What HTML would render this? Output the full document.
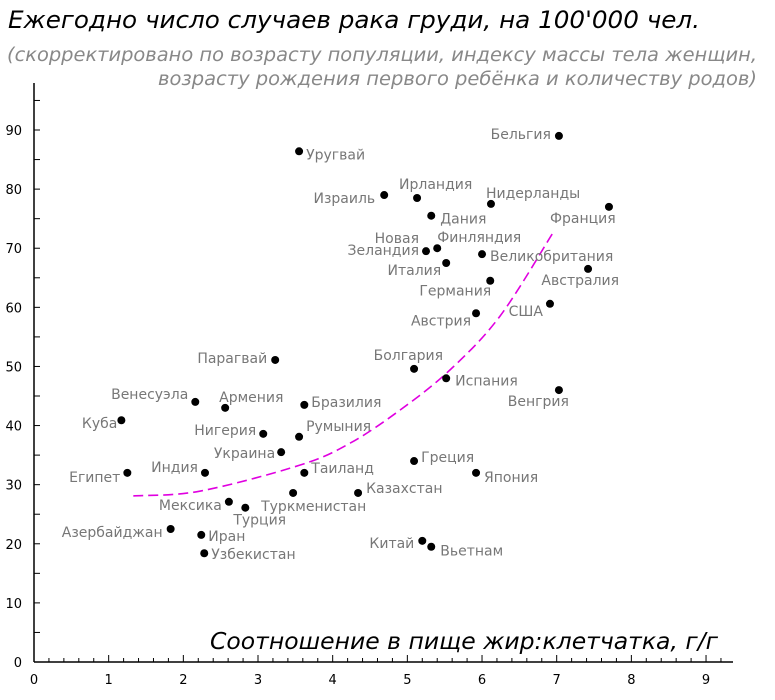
<!DOCTYPE html>
<html><head><meta charset="utf-8"><style>
html,body{margin:0;padding:0;background:#fff;}
svg{display:block;font-family:"DejaVu Sans","Liberation Sans",sans-serif;}
</style></head><body>
<svg id="chart" width="775" height="700">
<text x="8" y="28" font-size="24" font-style="italic" fill="#000" textLength="692" lengthAdjust="spacingAndGlyphs">Ежегодно число случаев рака груди, на 100'000 чел.</text>
<text x="757" y="61" font-size="18.5" font-style="italic" fill="#888" text-anchor="end" textLength="750" lengthAdjust="spacingAndGlyphs">(скорректировано по возрасту популяции, индексу массы тела женщин,</text>
<text x="757" y="85" font-size="18.5" font-style="italic" fill="#888" text-anchor="end" textLength="599" lengthAdjust="spacingAndGlyphs">возрасту рождения первого ребёнка и количеству родов)</text>
<text x="718" y="649" font-size="23.5" font-style="italic" fill="#000" text-anchor="end" textLength="508" lengthAdjust="spacingAndGlyphs">Соотношение в пище жир:клетчатка, г/г</text>
<g id="axes"></g>
<g id="trend"></g>
<g id="points"></g>
</svg>
<script>
const countries=["Бельгия","Уругвай","Израиль","Ирландия","Нидерланды","Франция","Дания","Новая\nЗеландия","Финляндия","Италия","Великобритания","Германия","Австралия","США","Австрия","Парагвай","Болгария","Испания","Венгрия","Венесуэла","Армения","Бразилия","Куба","Нигерия","Румыния","Украина","Египет","Индия","Таиланд","Греция","Япония","Туркменистан","Казахстан","Мексика","Турция","Азербайджан","Иран","Узбекистан","Китай","Вьетнам"];
const fatFiber=[7.03,3.55,4.69,5.13,6.12,7.70,5.32,5.25,5.40,5.52,6.0,6.11,7.42,6.91,5.92,3.23,5.09,5.52,7.03,2.16,2.56,3.62,1.17,3.07,3.55,3.31,1.25,2.29,3.62,5.09,5.92,3.47,4.34,2.61,2.83,1.83,2.24,2.28,5.2,5.32];
const cases=[89.0,86.4,79.0,78.5,77.5,77.0,75.5,69.5,70.0,67.5,69.0,64.5,66.5,60.6,59.0,51.1,49.6,48.0,46.0,44.0,43.0,43.5,40.9,38.6,38.1,35.5,32.0,32.0,32.0,34.0,32.0,28.6,28.6,27.1,26.1,22.5,21.5,18.4,20.5,19.5];
const labelAnchor=["end","start","end","start","start","start","start","end","start","end","start","end","end","end","end","end","end","start","end","end","start","start","end","end","start","end","end","end","start","start","start","start","start","end","start","end","start","start","end","start"];
const labelDx=[-8,7,-9,-18,-5,-59,9,-7,0,-5,8,1,31,-7,-5,-8,29,9,10,-7,-6,7,-4,-7,7,-6,-7,-7,7,7,8,-32,8,-7,-12,-8,7,7,-8,9];
const labelDy=[-2,3,3,-14,-11,11,3,-13,-11,7,2,10,11,7,7,-2,-14,2,11,-8,-11,-3,3,-4,-11,1,4,-6,-5,-4,4,13,-5,3,12,3,1,1,2,4];
const trendX=[1.33,2.22,3.56,4.23,4.90,5.57,6.24,6.94];
const trendY=[28.1,28.9,33.3,37.0,42.6,49.4,58.5,72.4];
const xTicks=[0,1,2,3,4,5,6,7,8,9];
const yTicks=[0,10,20,30,40,50,60,70,80,90];

const NS="http://www.w3.org/2000/svg";
const X0=34,XS=74.67,Y0=662,YS=5.911;
const sx=v=>X0+v*XS, sy=v=>Y0-v*YS;
function mk(tag,attrs,parent){const e=document.createElementNS(NS,tag);for(const k in attrs)e.setAttribute(k,attrs[k]);parent.appendChild(e);return e;}
const axes=document.getElementById('axes');
let l=mk('line',{x1:X0,y1:83,x2:X0,y2:Y0,stroke:'#000','stroke-width':1.5},axes);


l=mk('line',{x1:X0,y1:Y0,x2:733,y2:Y0,stroke:'#000','stroke-width':1.5},axes);


for(let v=0;v<=9.2;v+=0.2){const major=Math.abs(v-Math.round(v))<1e-6;
 const t=mk('line',{x1:sx(v),y1:Y0,x2:sx(v),y2:Y0-(major?7:4),stroke:'#000','stroke-width':1},axes);
 
 }
xTicks.forEach(v=>{const t=mk('text',{x:sx(v),y:Y0+22,'font-size':13,'text-anchor':'middle',fill:'#000'},axes);t.textContent=v;
 
 });
for(let v=5;v<=95;v+=5){const t=mk('line',{x1:X0,y1:sy(v),x2:X0+6,y2:sy(v),stroke:'#000','stroke-width':1},axes);
 
 }
yTicks.forEach(v=>{const t=mk('text',{x:22,y:sy(v)+5,'font-size':13,'text-anchor':'end',fill:'#000'},axes);t.textContent=v;
 
 });
// trend: smooth Catmull-Rom through sample points
const tg=document.getElementById('trend');
const P=trendX.map((x,i)=>[sx(x),sy(trendY[i])]);
let d='M'+P[0][0]+','+P[0][1];
for(let i=0;i<P.length-1;i++){const p0=P[Math.max(i-1,0)],p1=P[i],p2=P[i+1],p3=P[Math.min(i+2,P.length-1)];
 const c1=[p1[0]+(p2[0]-p0[0])/6,p1[1]+(p2[1]-p0[1])/6],c2=[p2[0]-(p3[0]-p1[0])/6,p2[1]-(p3[1]-p1[1])/6];
 d+=' C'+c1[0]+','+c1[1]+' '+c2[0]+','+c2[1]+' '+p2[0]+','+p2[1];}
const tp=mk('path',{d:d,fill:'none',stroke:'#e000e0','stroke-width':1.6,'stroke-dasharray':'10,5'},tg);


// points
const pg=document.getElementById('points');
countries.forEach((c,i)=>{const px=sx(fatFiber[i]),py=sy(cases[i]);
 const dot=mk('circle',{cx:px,cy:py,r:4,fill:'#000'},pg);
 
 
 const lines=c.split('\n');
 lines.forEach((ln,j)=>{const t=mk('text',{x:px+labelDx[i],y:py+labelDy[i]+j*12+5,'font-size':14,'text-anchor':labelAnchor[i],fill:'#777'},pg);
  t.textContent=ln;
  
  });
});
</script>
</body></html>
